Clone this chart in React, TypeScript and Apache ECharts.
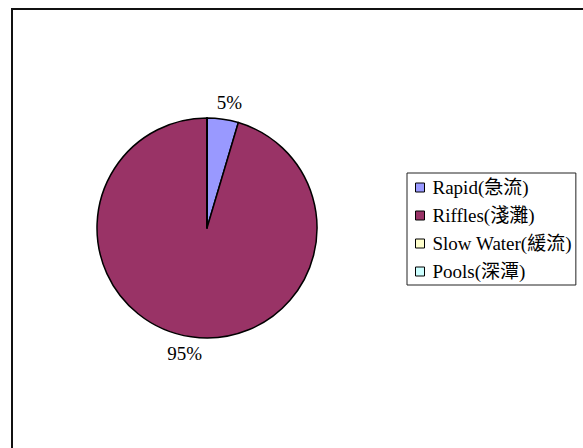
import React, { useEffect, useRef } from "react";
import * as echarts from "echarts";

const categories = ["Rapid(急流)", "Riffles(淺灘)", "Slow Water(緩流)", "Pools(深潭)"];
const values = [4.6, 95.4, 0, 0];
const colors = ["#9999FF", "#993366", "#FFFFCC", "#CCFFFF"];

const FONT = "'Liberation Serif', 'Times New Roman', 'Noto Sans CJK TC', serif";

export default function App() {
  const ref = useRef<HTMLDivElement>(null);
  useEffect(() => {
    if (!ref.current) return;
    const chart = echarts.init(ref.current, null, { renderer: "svg" });
    const data = categories.map((name, i) => ({
      name,
      value: values[i],
      itemStyle: { color: colors[i] },
    }));
    chart.setOption({
      animation: false,
      backgroundColor: "#ffffff",
      textStyle: { fontFamily: FONT },
      graphic: [
        {
          type: "rect",
          shape: { x: 12, y: 9, width: 620, height: 500 },
          style: { fill: "none", stroke: "#111", lineWidth: 2 },
          silent: true,
        },
      ],
      legend: {
        orient: "vertical",
        left: 407,
        top: 173,
        padding: [5, 4, 4, 8],
        itemGap: 9,
        itemWidth: 9,
        itemHeight: 9,
        icon: "rect",
        borderColor: "#222",
        borderWidth: 1,
        textStyle: {
          fontFamily: FONT,
          fontSize: 19,
          color: "#000",
          padding: [0, 0, 0, 3],
        },
        itemStyle: { borderColor: "#000", borderWidth: 1 },
        data: categories,
      },
      series: [
        {
          type: "pie",
          center: [207, 228],
          radius: 110,
          startAngle: 90,
          clockwise: true,
          avoidLabelOverlap: false,
          stillShowZeroSum: true,
          minShowLabelAngle: 0.0001,
          itemStyle: { borderColor: "#000", borderWidth: 1.5 },
          emphasis: { disabled: true },
          label: {
            show: true,
            position: "outside",
            fontFamily: FONT,
            fontSize: 19,
            color: "#000",
            distanceToLabelLine: 4,
            formatter: (p: any) => (p.value > 0 ? Math.round(p.percent) + "%" : ""),
          },
          labelLine: { show: false, length: 17, length2: 0 },
          labelLayout: { align: "center" },
          data,
        },
      ],
    });
    return () => chart.dispose();
  }, []);
  return (
    <div
      ref={ref}
      style={{ position: "absolute", left: 0, top: 0, width: 583, height: 448 }}
    />
  );
}
